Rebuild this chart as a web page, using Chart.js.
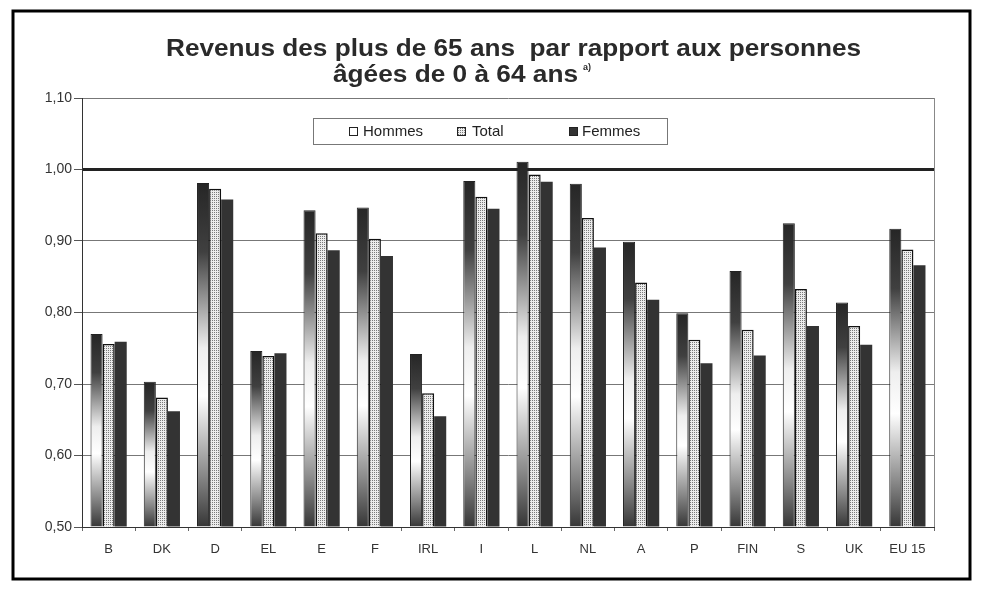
<!DOCTYPE html>
<html>
<head>
<meta charset="utf-8">
<script src="https://cdn.jsdelivr.net/npm/chart.js@4.4.0/dist/chart.umd.min.js"></script>
<style>
  html, body { margin: 0; padding: 0; background: #fff; overflow: hidden; }
  canvas { display: block; }
</style>
</head>
<body>
<canvas id="revenusChart" width="984" height="599"></canvas>
<script>
const categories = ['B', 'DK', 'D', 'EL', 'E', 'F', 'IRL', 'I', 'L', 'NL', 'A', 'P', 'FIN', 'S', 'UK', 'EU 15'];
const hommes = [0.770, 0.703, 0.981, 0.746, 0.943, 0.947, 0.742, 0.984, 1.011, 0.980, 0.899, 0.799, 0.858, 0.925, 0.814, 0.917];
const total  = [0.756, 0.681, 0.973, 0.739, 0.911, 0.903, 0.687, 0.962, 0.993, 0.932, 0.842, 0.762, 0.776, 0.833, 0.781, 0.888];
const femmes = [0.759, 0.662, 0.958, 0.743, 0.887, 0.879, 0.655, 0.945, 0.983, 0.891, 0.818, 0.729, 0.740, 0.781, 0.755, 0.866];
const seriesNames = ['Hommes', 'Total', 'Femmes'];
const yMin = 0.5, yMax = 1.1, yStep = 0.1;

const FONT = '"Liberation Sans", Arial, sans-serif';

// motif pointillé pour la série Total
function makeDots() {
    const c = document.createElement('canvas');
    c.width = 2; c.height = 2;
    const x = c.getContext('2d');
    x.fillStyle = '#ececec';
    x.fillRect(0, 0, 2, 2);
    x.fillStyle = '#7a7a7a';
    x.fillRect(0, 0, 1, 1);
    return x.createPattern(c, 'repeat');
}
const dots = makeDots();

// dégradé vertical des barres Hommes (sombre en haut, clair au milieu)
function hommesFill(ctx) {
    const chart = ctx.chart;
    const y = chart.scales.y;
    if (!chart.chartArea || !y || ctx.type !== 'data') return '#777';
    const top = y.getPixelForValue(ctx.raw);
    const bottom = y.getPixelForValue(yMin);
    const g = chart.ctx.createLinearGradient(0, top, 0, bottom);
    g.addColorStop(0, '#262626');
    g.addColorStop(0.2, '#404040');
    g.addColorStop(0.48, '#eeeeee');
    g.addColorStop(0.62, '#ffffff');
    g.addColorStop(0.85, '#888888');
    g.addColorStop(1, '#363636');
    return g;
}

// texte étiré horizontalement pour occuper une largeur donnée
function stretchedText(c, text, x, y, width) {
    const w = c.measureText(text).width;
    c.save();
    c.translate(x, y);
    c.scale(width / w, 1);
    c.fillText(text, 0, 0);
    c.restore();
}

const decorPlugin = {
    id: 'decor',
    beforeDraw(chart) {
        const c = chart.ctx;
        c.save();
        c.fillStyle = '#fff';
        c.fillRect(0, 0, chart.width, chart.height);
        c.restore();
    },
    afterDraw(chart) {
        const c = chart.ctx;
        const a = chart.chartArea;
        c.save();

        // bord droit de la zone de tracé
        c.strokeStyle = '#888';
        c.lineWidth = 1;
        c.beginPath();
        c.moveTo(a.right + 0.5, a.top);
        c.lineTo(a.right + 0.5, a.bottom);
        c.stroke();

        // cadre extérieur
        c.strokeStyle = '#000';
        c.lineWidth = 3;
        c.strokeRect(13, 11, 957, 568);

        // titre
        c.fillStyle = '#2a2a2a';
        c.textBaseline = 'alphabetic';
        c.textAlign = 'left';
        c.font = 'bold 23px ' + FONT;
        stretchedText(c, 'Revenus des plus de 65 ans  par rapport aux personnes', 166, 56, 695);
        stretchedText(c, 'âgées de 0 à 64 ans', 333, 82, 245);
        c.font = 'bold 9px ' + FONT;
        c.fillText('a)', 583, 70);

        // légende
        c.fillStyle = '#fff';
        c.fillRect(313, 118, 355, 27);
        c.strokeStyle = '#777';
        c.lineWidth = 1;
        c.strokeRect(313.5, 118.5, 354, 26);

        const swatches = [
            { x: 349, fill: '#fff' },
            { x: 457, fill: dots },
            { x: 569, fill: '#333' }
        ];
        const textX = [363, 472, 582];
        c.font = '15px ' + FONT;
        c.textBaseline = 'middle';
        swatches.forEach((s, i) => {
            c.fillStyle = s.fill;
            c.fillRect(s.x, 127, 9, 9);
            c.strokeStyle = '#222';
            c.lineWidth = 1;
            c.strokeRect(s.x + 0.5, 127.5, 8, 8);
            c.fillStyle = '#222';
            c.fillText(seriesNames[i], textX[i], 132);
        });
        c.restore();
    }
};

const chart = new Chart(document.getElementById('revenusChart'), {
    type: 'bar',
    data: {
        labels: categories,
        datasets: [
            {
                label: seriesNames[0],
                data: hommes,
                backgroundColor: hommesFill,
                borderColor: '#222',
                borderWidth: 1
            },
            {
                label: seriesNames[1],
                data: total,
                backgroundColor: dots,
                borderColor: '#111',
                borderWidth: 1.5
            },
            {
                label: seriesNames[2],
                data: femmes,
                backgroundColor: '#333',
                borderWidth: 0
            }
        ]
    },
    options: {
        responsive: false,
        animation: false,
        events: [],
        layout: { padding: { left: 12, top: 98, right: 50, bottom: 32 } },
        datasets: {
            bar: { categoryPercentage: 0.68, barPercentage: 1.0, base: yMin }
        },
        plugins: {
            legend: { display: false },
            title: { display: false },
            tooltip: { enabled: false }
        },
        scales: {
            x: {
                grid: {
                    drawOnChartArea: false,
                    drawTicks: true,
                    tickLength: 4,
                    color: '#666'
                },
                border: { display: true, color: '#333', width: 1 },
                ticks: {
                    color: '#333',
                    padding: 11,
                    maxRotation: 0,
                    autoSkip: false,
                    font: { family: FONT, size: 13 }
                },
                afterFit(scale) { scale.height = 40; }
            },
            y: {
                min: yMin,
                max: yMax,
                grid: {
                    color(ctx) {
                        return Math.abs(ctx.tick.value - 1) < 1e-6 ? '#222' : '#777';
                    },
                    lineWidth(ctx) {
                        return Math.abs(ctx.tick.value - 1) < 1e-6 ? 3 : 1;
                    },
                    tickLength: 8,
                    tickColor: '#555',
                    tickWidth: 1
                },
                border: { display: true, color: '#333', width: 1 },
                ticks: {
                    stepSize: yStep,
                    color: '#333',
                    padding: 2,
                    font: { family: FONT, size: 14 },
                    callback: (v) => v.toFixed(2).replace('.', ',')
                },
                afterFit(scale) { scale.width = 70; }
            }
        }
    },
    plugins: [decorPlugin]
});
</script>
</body>
</html>
